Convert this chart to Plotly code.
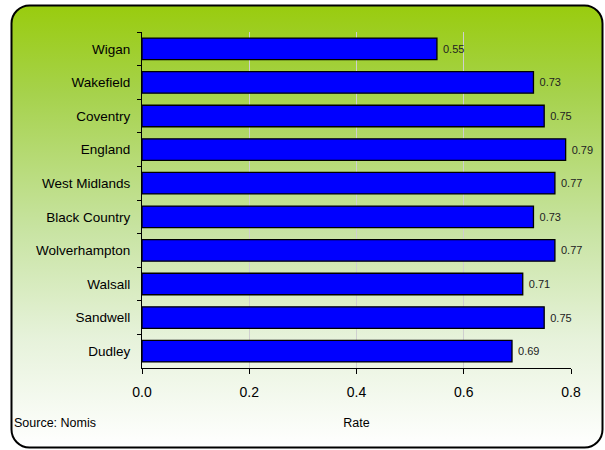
import base64
import plotly.graph_objects as go

categories = ["Wigan", "Wakefield", "Coventry", "England", "West Midlands",
              "Black Country", "Wolverhampton", "Walsall", "Sandwell", "Dudley"]
rates = [0.55, 0.73, 0.75, 0.79, 0.77, 0.73, 0.77, 0.71, 0.75, 0.69]
x_ticks = [0.0, 0.2, 0.4, 0.6, 0.8]
x_tick_labels = ["0.0", "0.2", "0.4", "0.6", "0.8"]

W, H = 605, 450
L, R, T, B = 142, 34, 32, 82
pw, ph = W - L - R, H - T - B

# background: rounded box with green-to-white gradient
bx0, by0, bx1, by1 = 10, 4, 604, 449
bw, bh = bx1 - bx0, by1 - by0
svg = f'''<svg xmlns="http://www.w3.org/2000/svg" width="{bw}" height="{bh}" viewBox="0 0 {bw} {bh}" preserveAspectRatio="none">
<defs><linearGradient id="g" x1="0" y1="0" x2="0" y2="1">
<stop offset="0" stop-color="#99cc0e"/>
<stop offset="0.2" stop-color="#a6d24c"/>
<stop offset="0.5" stop-color="#c7e3a0"/>
<stop offset="0.75" stop-color="#e6f2da"/>
<stop offset="1" stop-color="#ffffff"/>
</linearGradient></defs>
<rect x="1.5" y="1.5" width="{bw-3}" height="{bh-3}" rx="18" ry="18" fill="url(#g)" stroke="#000000" stroke-width="2"/>
</svg>'''
src = "data:image/svg+xml;base64," + base64.b64encode(svg.encode()).decode()

fig = go.Figure(go.Bar(
    x=rates, y=categories, orientation="h",
    marker=dict(color="#0000ff", line=dict(color="#000000", width=1.3)),
    text=rates, texttemplate="\u00a0%{x:.2f}", textposition="outside",
    textfont=dict(family="Liberation Sans, Arial, sans-serif", size=11, color="#222222"),
    cliponaxis=False,
))

fig.add_layout_image(dict(
    source=src, xref="paper", yref="paper",
    x=(bx0 - L) / pw, y=(H - B - by0) / ph,
    sizex=bw / pw, sizey=bh / ph,
    xanchor="left", yanchor="top", sizing="stretch", layer="below",
))

fig.add_annotation(
    text="Source: Nomis", xref="paper", yref="paper",
    x=(12 - L) / pw, y=(H - B - 423) / ph, xanchor="left", yanchor="middle",
    showarrow=False, font=dict(family="Liberation Sans, Arial, sans-serif", size=12.5, color="#000000"),
)

fig.update_layout(
    width=W, height=H,
    margin=dict(l=L, r=R, t=T, b=B),
    paper_bgcolor="#ffffff", plot_bgcolor="rgba(0,0,0,0)",
    bargap=0.36, showlegend=False,
    font=dict(family="Liberation Sans, Arial, sans-serif", size=13, color="#000000"),
    xaxis=dict(
        range=[0, 0.8], tickvals=x_ticks, ticktext=x_tick_labels,
        showgrid=True, gridcolor="#cfcfcf", gridwidth=1, zeroline=False,
        showline=True, linecolor="#000000", linewidth=1,
        ticks="outside", ticklen=5, tickcolor="#000000",
        ticklabelstandoff=6,
        tickfont=dict(size=14),
        title=dict(text="Rate", font=dict(size=12.5), standoff=19),
    ),
    yaxis=dict(
        autorange="reversed", showgrid=False, zeroline=False,
        showline=True, linecolor="#000000", linewidth=1,
        ticks="outside", ticklen=4, tickcolor="#000000", tickson="boundaries",
        ticklabelstandoff=8,
        tickfont=dict(size=13.5),
    ),
)

fig.write_html("out.html", config={"displayModeBar": False},
               post_script="document.body.style.margin='0';")
